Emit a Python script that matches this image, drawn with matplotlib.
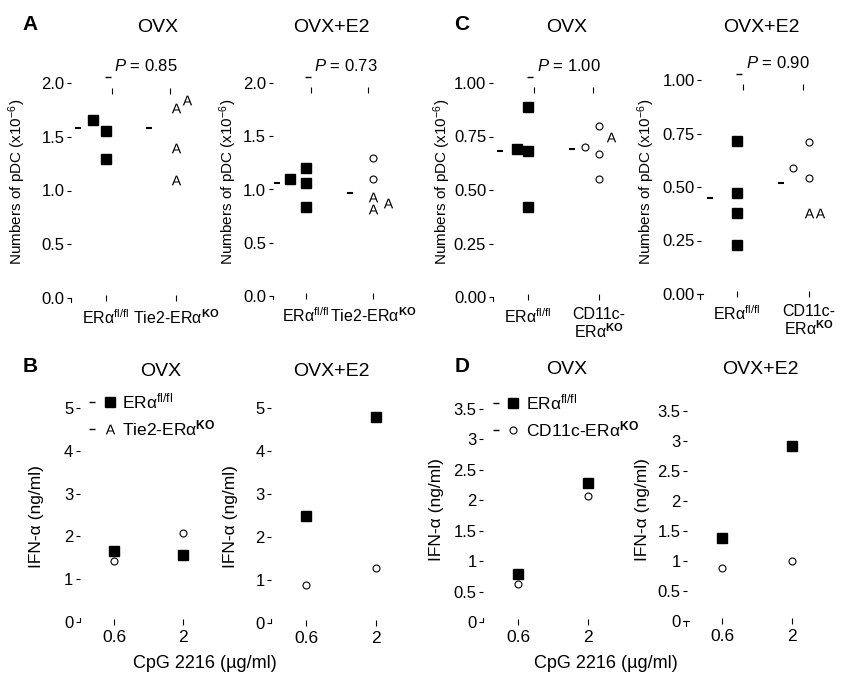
import numpy as np
import matplotlib
matplotlib.use("Agg")
import matplotlib.pyplot as plt
from matplotlib.lines import Line2D
from matplotlib.legend_handler import HandlerTuple
import matplotlib.transforms as mtransforms

plt.rcParams['font.family'] = ['Liberation Sans', 'DejaVu Sans']
plt.rcParams['mathtext.fontset'] = 'custom'
plt.rcParams['mathtext.rm'] = 'Liberation Sans'
plt.rcParams['mathtext.it'] = 'Liberation Sans:italic'
plt.rcParams['mathtext.bf'] = 'Liberation Sans:bold'

W, H = 848, 678

## ---- data: top row, numbers of pDC ----
groups_A = ['ERα$^{\\mathregular{fl/fl}}$', 'Tie2-ERα$^{\\mathbf{KO}}$']
groups_C = ['ERα$^{\\mathregular{fl/fl}}$', 'CD11c-\nERα$^{\\mathbf{KO}}$']

A_ovx_wt = [1.66, 1.55, 1.29]
A_ovx_ko_tri = [1.77, 1.84, 1.40, 1.10]
A_ovx_means = [1.58, 1.58]

A_e2_wt = [1.10, 1.20, 1.06, 0.84]
A_e2_ko_circ = [1.30, 1.10]
A_e2_ko_tri = [0.93, 0.82, 0.87]
A_e2_means = [1.06, 0.97]

C_ovx_wt = [0.89, 0.69, 0.68, 0.42]
C_ovx_ko_circ = [0.80, 0.70, 0.67, 0.55]
C_ovx_ko_tri = [0.75]
C_ovx_means = [0.68, 0.69]

C_e2_wt = [0.715, 0.47, 0.38, 0.23]
C_e2_ko_circ = [0.59, 0.71, 0.54]
C_e2_ko_tri = [0.38, 0.38]
C_e2_means = [0.45, 0.52]

p_values = ['0.85', '0.73', '1.00', '0.90']

## ---- data: bottom row, IFN-alpha ----
cpg_doses = ['0.6', '2']
B_ovx_wt = [1.66, 1.57]
B_ovx_ko = [1.43, 2.08]
B_e2_wt = [2.49, 4.79]
B_e2_ko = [0.88, 1.28]
D_ovx_wt = [0.79, 2.28]
D_ovx_ko = [0.62, 2.07]
D_e2_wt = [1.38, 2.92]
D_e2_ko = [0.88, 1.00]

fig = plt.figure(figsize=(W / 100, H / 100), dpi=100)


def add_ax(g1, g2, bottom, top, corner='down'):
    # g1, g2: pixel x of the two categories, bottom/top: pixel y of the axis ends
    scale = g2 - g1
    left = g1 - 0.5 * scale
    right = left + 1.85 * scale
    ax = fig.add_axes([left / W, 1 - bottom / H, (right - left) / W, (bottom - top) / H])
    ax.set_xlim(0.5, 2.35)
    for s in ax.spines.values():
        s.set_visible(False)
    ax.tick_params(axis='y', length=3, width=0.8, pad=1.5, labelsize=12, direction='out')
    ax.tick_params(axis='x', length=5, width=0.8, direction='inout', labelsize=11.5)
    ax.patch.set_alpha(0)
    # little corner left over at the origin
    off = mtransforms.offset_copy(ax.transAxes, fig=fig, x=0, y=0, units='dots')
    if corner == 'down':
        ax.plot([0, 0], [0, -3.5 / (bottom - top)], color='black', lw=0.8, transform=ax.transAxes, clip_on=False)
    elif corner == 'up':
        ax.plot([0, 0], [0, 4.0 / (bottom - top)], color='black', lw=0.8, transform=ax.transAxes, clip_on=False)
    else:
        ax.plot([-1.5 / (right - left)] * 2, [0, -5.0 / (bottom - top)], color='black', lw=0.8,
                transform=ax.transAxes, clip_on=False)
        ax.plot([-4.0 / (right - left), 2.0 / (right - left)], [0, 0], color='black', lw=0.8,
                transform=ax.transAxes, clip_on=False)
    return ax


def sq(ax, x, vals, offs=None, ms=7.5):
    offs = offs or [0] * len(vals)
    ax.plot(np.array(offs) + x, vals, 's', color='black', ms=ms, ls='none', clip_on=False)


def circ(ax, x, vals, offs=None):
    offs = offs or [0] * len(vals)
    ax.plot(np.array(offs) + x, vals, 'o', mfc='white', mec='black', ms=5, mew=0.8,
            ls='none', clip_on=False)


def tri(ax, x, vals, offs=None):
    offs = offs or [0] * len(vals)
    ax.plot(np.array(offs) + x, vals, marker='$\\mathregular{A}$', color='black', ms=7,
            mew=0, ls='none', clip_on=False)


def means(ax, vals, offs):
    ax.plot(np.array([1, 2]) + np.array(offs), vals, '_', color='black', ms=5, mew=1.5,
            clip_on=False)


def pbracket(ax, pval):
    tr = mtransforms.blended_transform_factory(ax.transData, ax.transAxes)
    ax.plot([1.03], [1.03], '_', color='black', ms=5, mew=1, transform=tr, clip_on=False)
    ax.plot([1.08, 1.92], [0.965, 0.965], '|', color='black', ms=4, mew=0.8,
            transform=tr, clip_on=False)
    ax.text(1.12, 1.08, '$P$ = ' + pval, transform=tr, fontsize=12, ha='left', va='center')


def top_ax(ax, ymax, yticks, fmt, labels):
    ax.set_ylim(0, ymax)
    ax.set_yticks(yticks)
    ax.set_yticklabels([fmt % t for t in yticks])
    ax.set_xticks([1, 2])
    ax.set_xticklabels(labels, va='top', linespacing=1.0)
    ax.tick_params(axis='x', pad=5)


# A, OVX
ax = add_ax(106, 176, 298, 83)
top_ax(ax, 2.0, [0, 0.5, 1.0, 1.5, 2.0], '%.1f', groups_A)
sq(ax, 1, A_ovx_wt, [-0.19, 0, 0])
tri(ax, 2, A_ovx_ko_tri, [0, 0.16, 0, 0])
means(ax, A_ovx_means, [-0.4, -0.39])
pbracket(ax, p_values[0])

# A, OVX+E2
ax = add_ax(306, 373, 296, 83)
top_ax(ax, 2.0, [0, 0.5, 1.0, 1.5, 2.0], '%.1f', groups_A)
sq(ax, 1, A_e2_wt, [-0.24, 0, 0, 0])
circ(ax, 2, A_e2_ko_circ)
tri(ax, 2, A_e2_ko_tri, [0, 0, 0.22])
means(ax, A_e2_means, [-0.43, -0.34])
pbracket(ax, p_values[1])

# C, OVX
ax = add_ax(528, 599, 297, 83)
top_ax(ax, 1.0, [0, 0.25, 0.5, 0.75, 1.0], '%.2f', groups_C)
sq(ax, 1, C_ovx_wt, [0, -0.15, 0, 0])
circ(ax, 2, C_ovx_ko_circ, [0, -0.2, 0, 0])
tri(ax, 2, C_ovx_ko_tri, [0.17])
means(ax, C_ovx_means, [-0.39, -0.38])
pbracket(ax, p_values[2])

# C, OVX+E2
ax = add_ax(737, 809, 294, 80, corner='tee')
top_ax(ax, 1.0, [0, 0.25, 0.5, 0.75, 1.0], '%.2f', groups_C)
sq(ax, 1, C_e2_wt)
circ(ax, 2, C_e2_ko_circ, [-0.22, 0, 0])
tri(ax, 2, C_e2_ko_tri, [0, 0.15])
means(ax, C_e2_means, [-0.375, -0.39])
pbracket(ax, p_values[3])


def bot_ax(ax, ymax, yticks, labels):
    ax.set_ylim(0, ymax)
    ax.set_yticks(yticks)
    ax.set_yticklabels(labels)
    ax.set_xticks([1, 2])
    ax.set_xticklabels(cpg_doses, fontsize=12.5)
    ax.tick_params(axis='x', pad=3)


# B
ax = add_ax(114, 183, 622, 408, corner='up')
bot_ax(ax, 5, [0, 1, 2, 3, 4, 5], ['0', '1', '2', '3', '4', '5'])
circ(ax, 1, B_ovx_ko[:1]); circ(ax, 2, B_ovx_ko[1:])
sq(ax, 1, B_ovx_wt[:1]); sq(ax, 2, B_ovx_wt[1:])
dash = Line2D([], [], marker='_', color='black', ls='none', ms=5, mew=1)
h1 = (dash, Line2D([], [], marker='s', color='black', ls='none', ms=7.5))
h2 = (dash, Line2D([], [], marker='$\\mathregular{A}$', color='black', ls='none', ms=7, mew=0))
ax.legend([h1, h2], [groups_A[0], groups_A[1]], handler_map={tuple: HandlerTuple(ndivide=None, pad=0.6)},
          loc='upper left', bbox_to_anchor=(0.02, 1.11), frameon=False, fontsize=12.5,
          handlelength=1.4, handletextpad=0.5, labelspacing=0.4, borderaxespad=0)

ax = add_ax(306, 376, 623, 408, corner='up')
bot_ax(ax, 5, [0, 1, 2, 3, 4, 5], ['0', '1', '2', '3', '4', '5'])
sq(ax, 1, B_e2_wt[:1]); sq(ax, 2, B_e2_wt[1:])
circ(ax, 1, B_e2_ko[:1]); circ(ax, 2, B_e2_ko[1:])

# D
dticks = [0, 0.5, 1, 1.5, 2, 2.5, 3, 3.5]
dlabels = ['0', '0.5', '1', '1.5', '2', '2.5', '3', '3.5']
ax = add_ax(518, 588, 622, 409, corner='up')
bot_ax(ax, 3.5, dticks, dlabels)
circ(ax, 1, D_ovx_ko[:1]); circ(ax, 2, D_ovx_ko[1:])
sq(ax, 1, D_ovx_wt[:1]); sq(ax, 2, D_ovx_wt[1:])
h2 = (dash, Line2D([], [], marker='o', mfc='white', mec='black', ls='none', ms=5, mew=0.8))
ax.legend([h1, h2], [groups_C[0], 'CD11c-ERα$^{\\mathbf{KO}}$'],
          handler_map={tuple: HandlerTuple(ndivide=None, pad=0.6)},
          loc='upper left', bbox_to_anchor=(0.02, 1.11), frameon=False, fontsize=12.5,
          handlelength=1.4, handletextpad=0.5, labelspacing=0.4, borderaxespad=0)

ax = add_ax(722, 792, 621, 411, corner='tee')
bot_ax(ax, 3.5, dticks, dlabels)
sq(ax, 1, D_e2_wt[:1]); sq(ax, 2, D_e2_wt[1:])
circ(ax, 1, D_e2_ko[:1]); circ(ax, 2, D_e2_ko[1:])


def ftext(x, y, s, **kw):
    fig.text(x / W, 1 - y / H, s, **kw)


for x, y, s in [(30, 25, 'A'), (462, 25, 'C'), (30, 367, 'B'), (462, 367, 'D')]:
    ftext(x, y, s, fontsize=15, fontweight='bold', ha='center', va='center')
for x, y, s in [(158, 27, 'OVX'), (331, 27, 'OVX+E2'), (567, 27, 'OVX'), (761, 27, 'OVX+E2'),
                (161, 372, 'OVX'), (331, 372, 'OVX+E2'), (567, 370, 'OVX'), (760, 370, 'OVX+E2')]:
    ftext(x, y, s, fontsize=14, ha='center', va='center')
for x in [17, 228, 442, 646]:
    ftext(x, 182, 'Numbers of pDC (x10$^{\\mathregular{-6}}$)', fontsize=11, rotation=90,
          ha='center', va='center')
for x, y in [(36, 517), (231, 517), (436, 510), (643, 510)]:
    ftext(x, y, 'IFN-α (ng/ml)', fontsize=12.5, rotation=90, ha='center', va='center')
ftext(205, 663, 'CpG 2216 (µg/ml)', fontsize=13, ha='center', va='center')
ftext(606, 663, 'CpG 2216 (µg/ml)', fontsize=13, ha='center', va='center')

fig.savefig('out.png', dpi=100)
